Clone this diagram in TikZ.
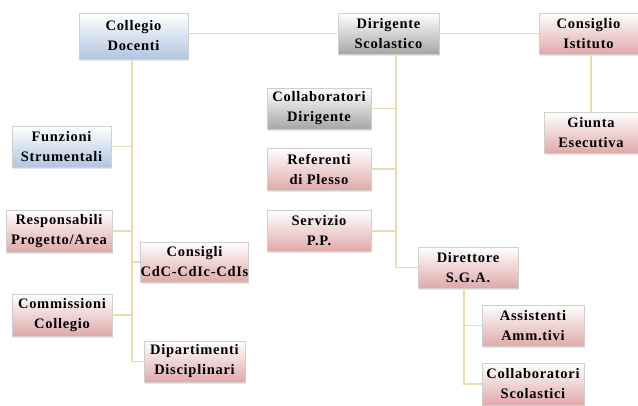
\documentclass[tikz,border=0pt]{standalone}
\usepackage{fontspec}
\setmainfont{Liberation Serif}[LetterSpace=5]
\usetikzlibrary{shadows}
\definecolor{linec}{HTML}{E8DDB0}
\definecolor{blueb}{HTML}{B0C5E0}
\definecolor{grayb}{HTML}{A6A6A6}
\definecolor{pinkb}{HTML}{E0A9A9}
\definecolor{edgec}{HTML}{CFCFCF}
\tikzset{
  boxbase/.style={draw=edgec, line width=0.6pt, rectangle, align=center,
    inner sep=0pt, font=\fontsize{14.5}{20}\selectfont\bfseries,
    drop shadow={opacity=0.18, shadow xshift=1pt, shadow yshift=-1.5pt}},
  bluebox/.style={boxbase, top color=white, bottom color=blueb},
  graybox/.style={boxbase, top color=white, bottom color=grayb},
  pinkbox/.style={boxbase, top color=white, bottom color=pinkb},
  sz/.style 2 args={minimum width=#1pt, minimum height=#2pt},
  conn/.style={draw=linec, line width=1.2pt}
}
\begin{document}
\begin{tikzpicture}[x=1pt,y=-1pt]
\useasboundingbox[fill=white] (0,0) rectangle (638,405);
% top row
\node[bluebox, sz={109}{46}] (cd) at (133.5,36) {Collegio\\Docenti};
\node[graybox, sz={101}{41}] (ds) at (388.5,33.5) {Dirigente\\Scolastico};
\node[pinkbox, sz={99}{41}] (ci) at (588.5,33.5) {Consiglio\\Istituto};
\node[pinkbox, sz={94}{41}] (ge) at (591,132.5) {Giunta\\Esecutiva};
% Collegio branch
\node[bluebox, sz={99}{41}] (fs) at (61.5,146.5) {Funzioni\\Strumentali};
\node[pinkbox, sz={106}{42}] (rp) at (59,231) {Responsabili\\Progetto/Area};
\node[pinkbox, sz={100}{42}] (cc) at (62,315) {Commissioni\\Collegio};
\node[pinkbox, sz={101}{40}] (co) at (194.5,262) {Consigli\\CdC-CdIc-CdIs};
\node[pinkbox, sz={101}{41}] (dd) at (194.5,361.5) {Dipartimenti\\Disciplinari};
% Dirigente branch
\node[graybox, sz={104}{41}] (cdir) at (319,108.5) {Collaboratori\\Dirigente};
\node[pinkbox, sz={104}{42}] (rf) at (319,169) {Referenti\\di Plesso};
\node[pinkbox, sz={104}{41}] (sp) at (319,231) {Servizio\\P.P.};
\node[pinkbox, sz={100}{41}] (dsga) at (468,267.5) {Direttore\\S.G.A.};
\node[pinkbox, sz={102}{41}] (aa) at (533,325.5) {Assistenti\\Amm.tivi};
\node[pinkbox, sz={102}{42}] (cs) at (533,384) {Collaboratori\\Scolastici};
% trunk coordinates
\coordinate (t1) at ([xshift=-1.5pt]cd.south);
\coordinate (t2) at ([xshift=7.5pt]ds.south);
\coordinate (t3) at ([xshift=-4pt]dsga.south);
% connectors
\draw[conn] (ds.west) -- (ds.west -| cd.east);
\draw[conn] (ds.east) -- (ci.west);
\draw[conn] (ge.north) -- (ge.north |- ci.south);
\draw[conn] (t1) -- (t1 |- dd.west) -- (dd.west);
\draw[conn] (fs.east) -- (fs.east -| t1);
\draw[conn] (rp.east) -- (rp.east -| t1);
\draw[conn] (cc.east) -- (cc.east -| t1);
\draw[conn] (co.west) -- (co.west -| t1);
\draw[conn] (t2) -- (t2 |- dsga.west) -- (dsga.west);
\draw[conn] (cdir.east) -- (cdir.east -| t2);
\draw[conn] (rf.east) -- (rf.east -| t2);
\draw[conn] (sp.east) -- (sp.east -| t2);
\draw[conn] (t3) -- (t3 |- cs.west) -- (cs.west);
\draw[conn] (aa.west) -- (aa.west -| t3);
\end{tikzpicture}
\end{document}
